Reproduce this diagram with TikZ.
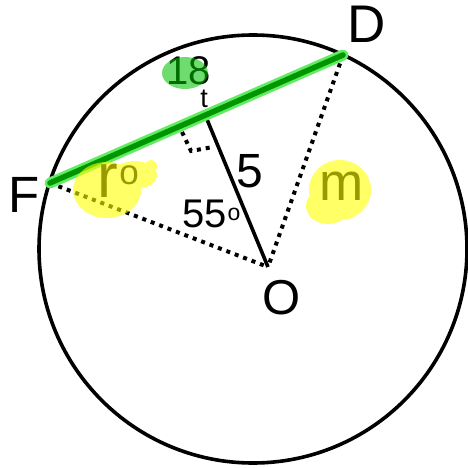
\documentclass[tikz,border=0pt]{standalone}
\usepackage{fontspec}
\setmainfont{Liberation Sans}
\definecolor{chordcore}{RGB}{0,150,0}
\definecolor{chordhalo}{RGB}{100,235,100}
\definecolor{hlgreen}{RGB}{0,193,0}
\definecolor{hlyellow}{RGB}{255,255,0}
\tikzset{
  dotline/.style={line width=4pt, dash pattern=on 4pt off 5pt},
  lbl/.style={inner sep=0pt, anchor=base, text=black},
  fs/.style={font=\fontsize{#1}{#1}\selectfont},
  hly/.style={fill=hlyellow, fill opacity=0.6},
  hlg/.style={fill=hlgreen, fill opacity=0.57}
}
\begin{document}
\begin{tikzpicture}[x=1pt,y=-1pt]
\useasboundingbox (0,0) rectangle (467,468);
% points
\coordinate (C) at (253,249);
\coordinate (O) at (268,267);
\coordinate (F) at (50,183);
\coordinate (D) at (343,55);
\coordinate (H) at (206,117);
\coordinate (R1) at (182,132);
\coordinate (R2) at (191,151);
\coordinate (R3) at (213,147);
% circle
\draw[line width=3.6pt] (C) circle[radius=214];
% dotted radii
\draw[dotline] (F) -- (O);
\draw[dotline] (D) -- (O);
% perpendicular
\draw[line width=3.6pt] (O) -- (H);
\draw[dotline, dash pattern=on 4pt off 5pt] (R1) -- (R2) -- (R3);
% chord
\draw[chordhalo, line width=11pt, line cap=round] (F) -- (D);
\draw[chordcore, line width=5.5pt, line cap=round] (F) -- (D);
% labels
\node[lbl, fs=53] (lD) at (367,43) {D};
\node[lbl, fs=51] (lF) at (24,212) {F};
\node[lbl, fs=49] (lO) at (282,314) {O};
\node[lbl, fs=48] (l5) at (250,187) {5};
\node[lbl, fs=40, anchor=base west] (l55) at (182,227) {55};
\node[lbl, fs=23] (l55o) at (234,220) {o};
\node[lbl, fs=40, anchor=base west] (l18) at (166,85) {18};
\node[lbl, fs=27] (lt) at (204,107) {t};
\node[lbl, fs=62] (lr) at (108,197) {r};
\node[lbl, fs=35] (lro) at (129,184) {o};
\node[lbl, fs=53] (lm) at (342,200) {m};
% highlights
\fill[hly] (107,190) ellipse[x radius=34, y radius=28]
  (135,175) ellipse[x radius=22, y radius=14]
  (151,166) circle[radius=6];
\fill[hly] (340,190) ellipse[x radius=31, y radius=30]
  (328,206) ellipse[x radius=22, y radius=18];
\fill[hlg] (185,73) ellipse[x radius=23, y radius=16];
\end{tikzpicture}
\end{document}
